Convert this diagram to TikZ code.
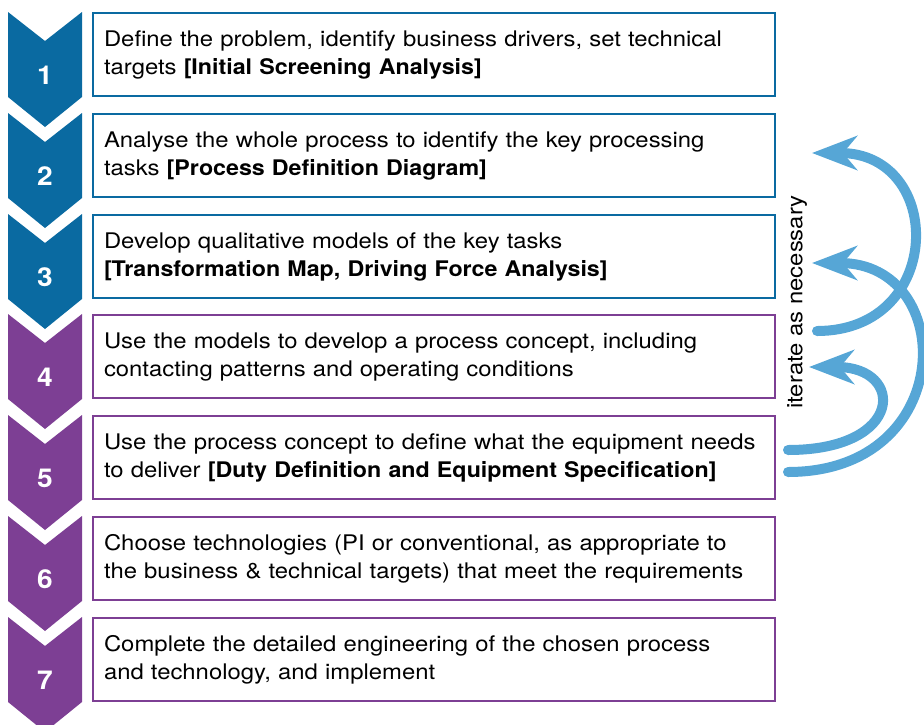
\documentclass[tikz,border=0pt]{standalone}
\usepackage{fontspec}
\setmainfont{TeX Gyre Heros}[FakeStretch=1.11,BoldFeatures={FakeStretch=1.08}]
\usepackage{tikz}
\usetikzlibrary{arrows.meta,positioning}
\definecolor{stageblue}{RGB}{10,106,161}
\definecolor{stagepurple}{RGB}{125,63,148}
\definecolor{loopblue}{RGB}{86,166,214}
\tikzstyle{task}=[rectangle,
line width=2pt,
fill=white,
anchor=north west,
minimum height=83pt,
text width=660pt,
inner xsep=11pt,
align=left,
font=\fontsize{21.5}{28}\selectfont]
\tikzstyle{number}=[text=white,
font=\fontsize{26}{26}\selectfont\bfseries]
\tikzstyle{loop}=[draw=loopblue,
line width=10pt,
line cap=round,
-{Stealth[length=45pt,width=34pt,inset=14pt]}]

\begin{document}
\begin{tikzpicture}[x=1pt,y=-1pt]
		% page frame, the last chevron runs off the bottom edge
		\useasboundingbox (0,0) rectangle (924,724);
		\clip (0,0) rectangle (924,724);
		
		% Chevrons down the left side: top edge, notch, sides, point
		\fill[stageblue]   (8,12)  -- (45,41)  -- (82,12)  -- (82,97)  -- (45,127) -- (8,97)  -- cycle;
		\fill[stageblue]   (8,113) -- (45,142) -- (82,113) -- (82,198) -- (45,228) -- (8,198) -- cycle;
		\fill[stageblue]   (8,214) -- (45,243) -- (82,214) -- (82,299) -- (45,329) -- (8,299) -- cycle;
		\fill[stagepurple] (8,314) -- (45,343) -- (82,314) -- (82,399) -- (45,429) -- (8,399) -- cycle;
		\fill[stagepurple] (8,415) -- (45,444) -- (82,415) -- (82,500) -- (45,530) -- (8,500) -- cycle;
		\fill[stagepurple] (8,516) -- (45,545) -- (82,516) -- (82,601) -- (45,631) -- (8,601) -- cycle;
		\fill[stagepurple] (8,617) -- (45,646) -- (82,617) -- (82,702) -- (45,732) -- (8,702) -- cycle;
		
		% Numbers on the chevrons
		\node (n_1) [number] at (45,75)  {1};
		\node (n_2) [number] at (45,176) {2};
		\node (n_3) [number] at (45,277) {3};
		\node (n_4) [number] at (45,377) {4};
		\node (n_5) [number] at (45,478) {5};
		\node (n_6) [number] at (45,579) {6};
		\node (n_7) [number] at (45,680) {7};
		
		% One box for each stage
		\node (t_1) [task,draw=stageblue] at (92,12)
		{Define the problem, identify business drivers, set technical\\
			targets \textbf{[Initial Screening Analysis]}};
		\node (t_2) [task,draw=stageblue] at (92,113)
		{Analyse the whole process to identify the key processing\\
			tasks \textbf{[Process Definition Diagram]}};
		\node (t_3) [task,draw=stageblue] at (92,214)
		{Develop qualitative models of the key tasks\\
			\textbf{[Transformation Map, Driving Force Analysis]}};
		\node (t_4) [task,draw=stagepurple] at (92,314)
		{Use the models to develop a process concept, including\\
			contacting patterns and operating conditions};
		\node (t_5) [task,draw=stagepurple] at (92,415)
		{Use the process concept to define what the equipment needs\\
			to deliver \textbf{[Duty Definition and Equipment Specification]}};
		\node (t_6) [task,draw=stagepurple] at (92,516)
		{Choose technologies (PI or conventional, as appropriate to\\
			the business \& technical targets) that meet the requirements};
		\node (t_7) [task,draw=stagepurple] at (92,617)
		{Complete the detailed engineering of the chosen process\\
			and technology, and implement};
		
		% Feedback loops on the right
		\coordinate (a_4) at (817,331);
		\coordinate (a_2) at (812,153);
		\coordinate (b_5) at (788,472);
		\coordinate (b_3) at (812,263);
		\coordinate (c_5) at (788,450);
		\coordinate (c_4) at (809,367);
		
		\draw[loop] (b_5) .. controls (958,472) and (958,263) .. (b_3);
		\draw[loop] (a_4) .. controls (945,331) and (945,153) .. (a_2);
		\draw[loop] (c_5) .. controls (905,450) and (905,367) .. (c_4);
		
		\node (iter) [rotate=90,font=\fontsize{21.5}{24}\selectfont] at (797,302) {iterate as necessary};
		\end{tikzpicture}
\end{document}
